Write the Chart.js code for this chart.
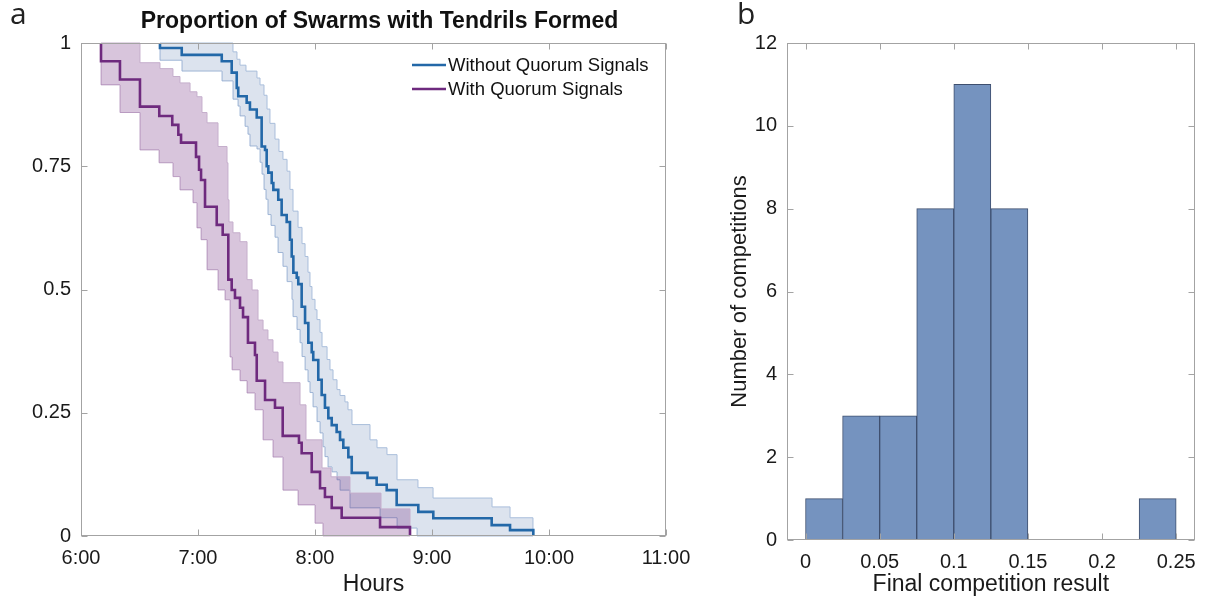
<!DOCTYPE html>
<html>
<head>
<meta charset="utf-8">
<script src="https://cdn.jsdelivr.net/npm/chart.js@4.4.1/dist/chart.umd.min.js"></script>
<style>
  body { margin: 0; background: #fff; }
  #wrap { position: relative; width: 1206px; height: 603px; overflow: hidden; }
  canvas { position: absolute; top: 0; }
  #left { left: 0; }
  #right { left: 720px; }
  .tag { position: absolute; top: -8px; font: 30px "Open Sans", sans-serif; color: #222; }
</style>
</head>
<body>
<div id="wrap">
  <canvas id="left" width="720" height="603"></canvas>
  <canvas id="right" width="486" height="603"></canvas>
  <div class="tag" style="left:10px">a</div>
  <div class="tag" style="left:737px">b</div>
</div>
<script>
// panel a: survival-style step curves, time in hours (7.5 = 7:30)
const blueTimes = [6.675, 6.675, 6.861, 7.203, 7.288, 7.331, 7.344, 7.416, 7.444, 7.502, 7.544, 7.573, 7.587, 7.601, 7.630, 7.644, 7.686, 7.715, 7.758, 7.786, 7.801, 7.815, 7.844, 7.857, 7.886, 7.915, 7.943, 7.972, 7.985, 8.028, 8.057, 8.085, 8.114, 8.143, 8.185, 8.214, 8.242, 8.285, 8.314, 8.449, 8.527, 8.613, 8.698, 8.883, 9.011, 9.510, 9.667, 9.866];
const blueValues = [1, 0.990, 0.976, 0.963, 0.940, 0.909, 0.892, 0.879, 0.865, 0.849, 0.790, 0.783, 0.750, 0.737, 0.716, 0.702, 0.682, 0.651, 0.637, 0.601, 0.567, 0.534, 0.524, 0.511, 0.465, 0.432, 0.392, 0.373, 0.357, 0.317, 0.286, 0.260, 0.239, 0.225, 0.211, 0.195, 0.179, 0.160, 0.128, 0.118, 0.104, 0.093, 0.063, 0.049, 0.036, 0.022, 0.012, 0];

const blueUpperTimes = [6.675, 7.299, 7.333, 7.359, 7.410, 7.504, 7.530, 7.564, 7.590, 7.615, 7.658, 7.692, 7.726, 7.761, 7.786, 7.812, 7.855, 7.889, 7.915, 7.940, 7.957, 7.974, 8.000, 8.017, 8.043, 8.060, 8.103, 8.128, 8.154, 8.188, 8.214, 8.256, 8.282, 8.316, 8.470, 8.530, 8.615, 8.701, 8.880, 9.009, 9.513, 9.667, 9.863];
const blueUpperValues = [1, 0.982, 0.967, 0.955, 0.943, 0.929, 0.915, 0.894, 0.866, 0.837, 0.805, 0.780, 0.764, 0.740, 0.703, 0.659, 0.626, 0.593, 0.567, 0.535, 0.506, 0.480, 0.459, 0.439, 0.413, 0.384, 0.358, 0.337, 0.317, 0.297, 0.285, 0.272, 0.256, 0.226, 0.195, 0.179, 0.165, 0.114, 0.098, 0.077, 0.059, 0.037, 0];

const blueLowerTimes = [6.675, 6.675, 6.863, 7.205, 7.299, 7.342, 7.359, 7.402, 7.427, 7.444, 7.504, 7.530, 7.547, 7.564, 7.581, 7.598, 7.624, 7.658, 7.684, 7.726, 7.761, 7.803, 7.812, 7.846, 7.872, 7.889, 7.915, 7.940, 7.957, 7.983, 8.017, 8.043, 8.068, 8.085, 8.111, 8.145, 8.188, 8.214, 8.299, 8.556, 8.701, 8.872, 9.863];
const blueLowerValues = [1, 0.965, 0.943, 0.923, 0.886, 0.872, 0.852, 0.831, 0.815, 0.791, 0.785, 0.758, 0.734, 0.703, 0.683, 0.652, 0.630, 0.606, 0.575, 0.547, 0.516, 0.480, 0.445, 0.419, 0.392, 0.364, 0.337, 0.313, 0.291, 0.262, 0.232, 0.209, 0.181, 0.161, 0.140, 0.130, 0.114, 0.093, 0.057, 0.037, 0.016, 0, 0];

const purpleTimes = [6.171, 6.171, 6.333, 6.504, 6.669, 6.780, 6.832, 6.855, 6.983, 7.009, 7.026, 7.060, 7.160, 7.211, 7.259, 7.288, 7.316, 7.359, 7.385, 7.427, 7.487, 7.502, 7.573, 7.658, 7.724, 7.863, 7.886, 7.972, 8.043, 8.085, 8.143, 8.228, 8.556, 8.812];
const purpleValues = [1, 0.963, 0.926, 0.871, 0.852, 0.834, 0.814, 0.798, 0.769, 0.743, 0.722, 0.668, 0.631, 0.611, 0.520, 0.499, 0.483, 0.463, 0.444, 0.392, 0.367, 0.315, 0.276, 0.260, 0.203, 0.189, 0.168, 0.130, 0.097, 0.079, 0.057, 0.037, 0.018, 0];

const purpleUpperTimes = [6.171, 6.504, 6.675, 6.786, 6.846, 6.932, 6.991, 7.034, 7.077, 7.171, 7.248, 7.256, 7.265, 7.299, 7.359, 7.419, 7.462, 7.513, 7.556, 7.598, 7.641, 7.684, 7.726, 7.872, 7.923, 8.060, 8.137, 8.299, 8.564, 8.812];
const purpleUpperValues = [1, 0.960, 0.948, 0.932, 0.919, 0.901, 0.891, 0.859, 0.838, 0.790, 0.757, 0.682, 0.637, 0.615, 0.597, 0.520, 0.499, 0.438, 0.418, 0.398, 0.373, 0.353, 0.311, 0.266, 0.195, 0.138, 0.120, 0.087, 0.055, 0];

const purpleLowerTimes = [6.171, 6.171, 6.333, 6.504, 6.667, 6.786, 6.846, 6.957, 6.991, 7.026, 7.077, 7.171, 7.231, 7.274, 7.291, 7.359, 7.419, 7.487, 7.556, 7.641, 7.726, 7.855, 8.000, 8.068, 8.812];
const purpleLowerValues = [1, 0.915, 0.859, 0.783, 0.757, 0.729, 0.702, 0.676, 0.625, 0.601, 0.540, 0.499, 0.479, 0.363, 0.337, 0.315, 0.290, 0.256, 0.195, 0.160, 0.093, 0.063, 0.026, 0, 0];

const seriesNames = ['Without Quorum Signals', 'With Quorum Signals'];
const hourTicks = [6, 7, 8, 9, 10, 11];
const hourLabels = ['6:00', '7:00', '8:00', '9:00', '10:00', '11:00'];
const propTicks = [0, 0.25, 0.5, 0.75, 1];
const propLabels = ['0', '0.25', '0.5', '0.75', '1'];

// panel b: histogram
const binCenters = [0.0125, 0.0375, 0.0625, 0.0875, 0.1125, 0.1375, 0.1625, 0.1875, 0.2125, 0.2375];
const binCounts = [1, 3, 3, 8, 11, 8, 0, 0, 0, 1];
const resultTicks = [0, 0.05, 0.1, 0.15, 0.2, 0.25];
const resultLabels = ['0', '0.05', '0.1', '0.15', '0.2', '0.25'];
const countTicks = [0, 2, 4, 6, 8, 10, 12];

const FONT = '"Liberation Sans", Arial, Helvetica, sans-serif';
const INK = '#1a1a1a';
const BLUE = '#2368a8';
const PURPLE = '#6e2a7e';

Chart.defaults.font.family = FONT;
Chart.defaults.color = INK;

function pts(xs, ys) {
  return xs.map((x, i) => ({ x: x, y: ys[i] }));
}

// matlab style box with inward ticks on all sides
function boxPlugin(xt, yt) {
  return {
    id: 'box',
    afterDraw(chart) {
      const { ctx, chartArea: a, scales } = chart;
      const L = Math.round(a.left) + 0.5, R = Math.round(a.right) - 0.5;
      const T = Math.round(a.top) + 0.5, B = Math.round(a.bottom) - 0.5;
      ctx.save();
      ctx.strokeStyle = '#a3a3a3';
      ctx.lineWidth = 1;
      ctx.strokeRect(L, T, R - L, B - T);
      ctx.beginPath();
      xt.forEach(v => {
        const px = Math.round(scales.x.getPixelForValue(v)) + 0.5;
        ctx.moveTo(px, B); ctx.lineTo(px, B - 6);
        ctx.moveTo(px, T); ctx.lineTo(px, T + 6);
      });
      yt.forEach(v => {
        const py = Math.round(scales.y.getPixelForValue(v)) + 0.5;
        ctx.moveTo(L, py); ctx.lineTo(L + 6, py);
        ctx.moveTo(R, py); ctx.lineTo(R - 6, py);
      });
      ctx.stroke();
      ctx.restore();
    }
  };
}

const titlePlugin = {
  id: 'topTitle',
  afterDraw(chart) {
    const { ctx, chartArea: a } = chart;
    ctx.save();
    ctx.font = 'bold 23px ' + FONT;
    ctx.fillStyle = '#111';
    ctx.textAlign = 'center';
    ctx.textBaseline = 'middle';
    ctx.fillText('Proportion of Swarms with Tendrils Formed', (a.left + a.right) / 2 + 6, 22);
    ctx.restore();
  }
};

const legendPlugin = {
  id: 'innerLegend',
  afterDraw(chart) {
    const { ctx, chartArea: a } = chart;
    const cols = [BLUE, PURPLE];
    ctx.save();
    ctx.font = '18.5px ' + FONT;
    ctx.textBaseline = 'middle';
    seriesNames.forEach((name, i) => {
      const y = a.top + 22 + i * 24;
      const x0 = a.right - 254;
      ctx.strokeStyle = cols[i];
      ctx.lineWidth = 2.5;
      ctx.beginPath();
      ctx.moveTo(x0, y);
      ctx.lineTo(x0 + 34, y);
      ctx.stroke();
      ctx.fillStyle = '#111';
      ctx.fillText(name, x0 + 36, y + 1);
    });
    ctx.restore();
  }
};

function bandEdge(xs, ys, edge, fill, order) {
  return {
    data: pts(xs, ys),
    borderColor: edge,
    borderWidth: 1,
    backgroundColor: fill,
    fill: fill ? '+1' : false,
    stepped: true,
    pointRadius: 0,
    order: order
  };
}

new Chart(document.getElementById('left'), {
  type: 'line',
  data: {
    datasets: [
      {
        label: seriesNames[0],
        data: pts(blueTimes, blueValues), borderColor: BLUE, borderWidth: 2.6,
        stepped: true, pointRadius: 0, fill: false, order: 0
      },
      {
        label: seriesNames[1],
        data: pts(purpleTimes, purpleValues), borderColor: PURPLE, borderWidth: 2.6,
        stepped: true, pointRadius: 0, fill: false, order: 0
      },
      bandEdge(blueUpperTimes, blueUpperValues, '#a9bedb', 'rgba(40,80,150,0.16)', 3),
      bandEdge(blueLowerTimes, blueLowerValues, '#a9bedb', null, 3),
      bandEdge(purpleUpperTimes, purpleUpperValues, '#c5aecc', 'rgba(110,40,125,0.27)', 2),
      bandEdge(purpleLowerTimes, purpleLowerValues, '#c5aecc', null, 2)
    ]
  },
  options: {
    responsive: false,
    animation: false,
    layout: { padding: { top: 43, right: 54, left: 0, bottom: 0 } },
    plugins: { legend: { display: false }, tooltip: { enabled: false } },
    elements: { line: { tension: 0 } },
    datasets: { line: { clip: 3 } },
    scales: {
      x: {
        type: 'linear', min: 6, max: 11,
        afterBuildTicks: s => { s.ticks = hourTicks.map(v => ({ value: v })); },
        afterFit: s => { s.height = 67; },
        grid: { display: false, drawTicks: false },
        border: { display: false },
        ticks: { padding: 10, font: { size: 20 }, color: INK, maxRotation: 0, autoSkip: false,
          callback: (v, i) => hourLabels[i] },
        title: { display: true, text: 'Hours', font: { size: 23 }, color: INK, padding: { top: 0, bottom: 5 } }
      },
      y: {
        type: 'linear', min: 0, max: 1,
        afterBuildTicks: s => { s.ticks = propTicks.map(v => ({ value: v })); },
        afterFit: s => { s.width = 81; },
        grid: { display: false, drawTicks: false },
        border: { display: false },
        ticks: { padding: 10, font: { size: 20 }, color: INK, callback: (v, i) => propLabels[i] }
      }
    }
  },
  plugins: [boxPlugin(hourTicks, propTicks), titlePlugin, legendPlugin]
});

new Chart(document.getElementById('right'), {
  type: 'bar',
  data: {
    datasets: [{
      label: 'Number of competitions',
      data: pts(binCenters, binCounts),
      backgroundColor: '#7593bf',
      borderColor: '#3e4f6e',
      borderWidth: 1,
      borderSkipped: false,
      barPercentage: 1,
      categoryPercentage: 1
    }]
  },
  options: {
    responsive: false,
    animation: false,
    layout: { padding: { top: 43, right: 8, left: 0, bottom: 0 } },
    plugins: { legend: { display: false }, tooltip: { enabled: false } },
    scales: {
      x: {
        type: 'linear', min: -0.0125, max: 0.2625, offset: false,
        afterBuildTicks: s => { s.ticks = resultTicks.map(v => ({ value: v })); },
        afterFit: s => { s.height = 63; },
        grid: { display: false, drawTicks: false, offset: false },
        border: { display: false },
        ticks: { padding: 10, font: { size: 20 }, color: INK, maxRotation: 0, autoSkip: false,
          callback: (v, i) => resultLabels[i] },
        title: { display: true, text: 'Final competition result', font: { size: 23 }, color: INK, padding: { top: 0, bottom: 5 } }
      },
      y: {
        type: 'linear', min: 0, max: 12,
        afterBuildTicks: s => { s.ticks = countTicks.map(v => ({ value: v })); },
        afterFit: s => { s.width = 67; },
        grid: { display: false, drawTicks: false },
        border: { display: false },
        ticks: { padding: 10, font: { size: 20 }, color: INK },
        title: { display: true, text: 'Number of competitions', font: { size: 22 }, color: INK, padding: { top: 7, bottom: 0 } }
      }
    }
  },
  plugins: [boxPlugin(resultTicks, countTicks)]
});
</script>
</body>
</html>
